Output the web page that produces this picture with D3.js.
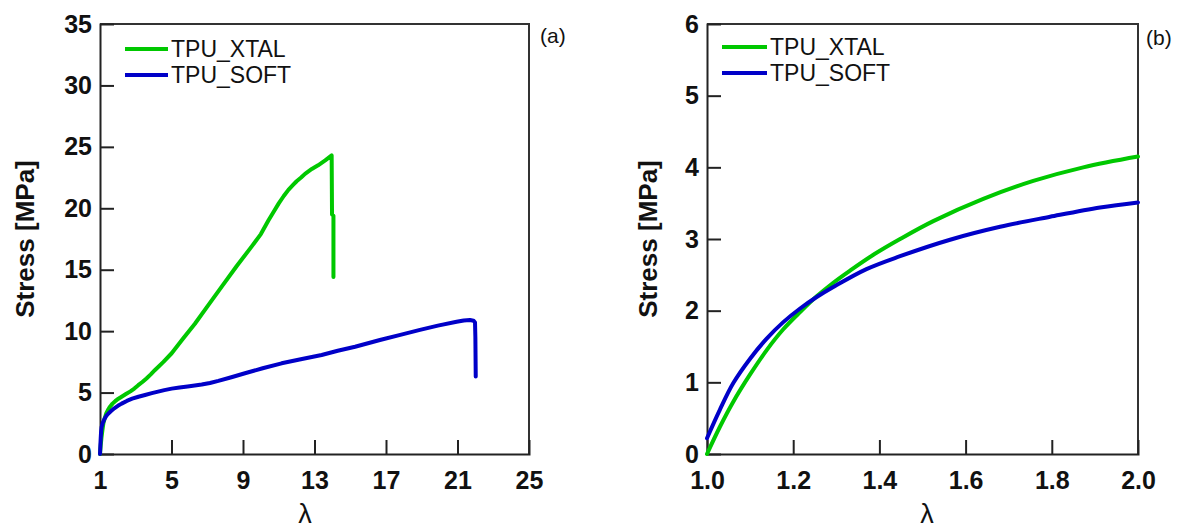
<!DOCTYPE html>
<html>
<head>
<meta charset="utf-8">
<script src="https://cdn.jsdelivr.net/npm/d3@7"></script>
<style>
  html, body { margin: 0; padding: 0; background: #fff; }
  svg { display: block; }
  text { font-family: Arial, "Liberation Sans", sans-serif; }
</style>
</head>
<body>
<svg id="chart" width="1181" height="530"></svg>
<script>
// ---------- Data ----------
const seriesNames = ["TPU_XTAL", "TPU_SOFT"];
const seriesColors = ["#00c800", "#0000c8"];

// Panel (a): full curves
const xtalFull = [
  [1.0, 0.0], [1.04, 0.7], [1.08, 1.3], [1.13, 1.9], [1.19, 2.5], [1.27, 2.95], [1.35, 3.3],
  [1.45, 3.6], [1.56, 3.85], [1.7, 4.1], [1.85, 4.3], [2.03, 4.5], [2.21, 4.66],
  [2.45, 4.88], [2.7, 5.1], [2.92, 5.33], [3.14, 5.6], [3.37, 5.86], [3.6, 6.15], [3.84, 6.48],
  [4.08, 6.84], [4.55, 7.5], [5.01, 8.2], [5.65, 9.4], [6.31, 10.6], [7.05, 12.1],
  [7.8, 13.6], [8.65, 15.3], [9.49, 16.9], [10.0, 17.9], [10.42, 19.0], [10.75, 19.8],
  [11.0, 20.4], [11.28, 21.0], [11.54, 21.5], [11.8, 21.9], [12.0, 22.2], [12.25, 22.5],
  [12.47, 22.8], [12.85, 23.2], [13.2, 23.5], [13.6, 23.9], [13.96, 24.3],
  [13.98, 19.5], [14.06, 19.4], [14.06, 14.4]
];
const softFull = [
  [1.0, 0.0], [1.02, 0.7], [1.04, 1.3], [1.06, 1.8], [1.09, 2.2], [1.16, 2.55], [1.25, 2.85],
  [1.35, 3.1], [1.47, 3.3], [1.62, 3.5], [1.8, 3.72], [2.0, 3.92], [2.21, 4.1],
  [2.5, 4.32], [2.8, 4.5], [3.15, 4.66], [3.52, 4.8], [3.9, 4.95], [4.25, 5.08], [4.6, 5.2],
  [5.01, 5.32], [5.45, 5.42], [5.9, 5.5], [6.3, 5.57], [6.69, 5.65], [7.15, 5.78],
  [7.62, 5.95], [8.35, 6.25], [9.11, 6.57], [10.1, 6.98], [11.16, 7.38], [12.3, 7.73],
  [13.4, 8.06], [14.3, 8.4], [15.27, 8.73], [16.66, 9.28], [17.8, 9.7], [18.9, 10.1],
  [19.9, 10.45], [20.95, 10.77], [21.35, 10.87], [21.7, 10.9], [21.9, 10.85], [21.98, 10.7],
  [22.0, 9.5], [22.02, 6.3]
];

// Panel (b): zoom on small strains
const xtalZoom = [
  [1.0, 0.0], [1.03, 0.38], [1.061, 0.73], [1.1, 1.11], [1.1385, 1.45], [1.177, 1.74],
  [1.216, 1.98], [1.2545, 2.2], [1.293, 2.39], [1.332, 2.56], [1.386, 2.78], [1.448, 3.0],
  [1.525, 3.25], [1.641, 3.56], [1.757, 3.81], [1.873, 4.0], [2.0, 4.15]
];
const softZoom = [
  [1.0, 0.22], [1.03, 0.62], [1.061, 0.99], [1.1, 1.33], [1.1385, 1.61], [1.177, 1.84],
  [1.216, 2.03], [1.2545, 2.19], [1.293, 2.33], [1.37, 2.58], [1.448, 2.76], [1.564, 2.99],
  [1.68, 3.17], [1.796, 3.31], [1.912, 3.44], [2.0, 3.51]
];

const xTicksA = [1, 5, 9, 13, 17, 21, 25];
const yTicksA = [0, 5, 10, 15, 20, 25, 30, 35];
const xTicksB = [1.0, 1.2, 1.4, 1.6, 1.8, 2.0];
const yTicksB = [0, 1, 2, 3, 4, 5, 6];

// ---------- Drawing ----------
const svg = d3.select("#chart");

function panel(opts) {
  const { x0, x1, y0, y1, xDom, yDom, xTicks, yTicks, xFmt, data, curve, label, labelPos,
          legendX, legendY, ytitleX, xtitleX } = opts;
  const x = d3.scaleLinear().domain(xDom).range([x0, x1]);
  const y = d3.scaleLinear().domain(yDom).range([y1, y0]);
  const g = svg.append("g");

  // box top & right
  g.append("path")
    .attr("d", `M${x0},${y0}H${x1}V${y1}`)
    .attr("fill", "none").attr("stroke", "#333").attr("stroke-width", 2);

  const xa = g.append("g").attr("transform", `translate(0,${y1})`)
    .call(d3.axisBottom(x).tickValues(xTicks).tickFormat(xFmt).tickSize(-14).tickPadding(17));
  const ya = g.append("g").attr("transform", `translate(${x0},0)`)
    .call(d3.axisLeft(y).tickValues(yTicks).tickFormat(d3.format("d")).tickSize(-14).tickPadding(8));
  [xa, ya].forEach(a => {
    a.select(".domain").attr("stroke", "#222").attr("stroke-width", 2);
    a.selectAll(".tick line").attr("stroke", "#222").attr("stroke-width", 2);
    a.selectAll(".tick text").attr("font-size", 25).attr("font-weight", "bold")
      .attr("fill", "#111").attr("font-family", "Arial, 'Liberation Sans', sans-serif");
  });
  xa.selectAll(".tick line").filter(d => d === xDom[0] || d === xDom[1]).remove();
  ya.selectAll(".tick line").filter(d => d === yDom[0] || d === yDom[1]).remove();

  // curves
  const line = d3.line().x(d => x(d[0])).y(d => y(d[1])).curve(curve);
  data.forEach((s, i) => {
    g.append("path").datum(s)
      .attr("d", line).attr("fill", "none")
      .attr("stroke", seriesColors[i]).attr("stroke-width", 4)
      .attr("stroke-linejoin", "round").attr("stroke-linecap", "round");
  });

  // legend
  seriesNames.forEach((n, i) => {
    const ly = legendY + i * 26;
    g.append("line").attr("x1", legendX[0]).attr("x2", legendX[1])
      .attr("y1", ly).attr("y2", ly)
      .attr("stroke", seriesColors[i]).attr("stroke-width", 4);
    g.append("text").attr("x", legendX[1] + 3).attr("y", ly + 8)
      .attr("font-size", 23).attr("fill", "#111").text(n);
  });

  // panel label
  g.append("text").attr("x", labelPos[0]).attr("y", labelPos[1])
    .attr("font-size", 21).attr("fill", "#111").text(label);

  // axis titles
  g.append("text")
    .attr("transform", `translate(${ytitleX},${(y0 + y1) / 2}) rotate(-90)`)
    .attr("text-anchor", "middle").attr("font-size", 26).attr("font-weight", "bold")
    .attr("fill", "#111").text("Stress [MPa]");
  g.append("text").attr("x", xtitleX).attr("y", 523)
    .attr("text-anchor", "middle").attr("font-size", 27).attr("fill", "#111").text("λ");
}

panel({
  x0: 100, x1: 529, y0: 24, y1: 454,
  xDom: [1, 25], yDom: [0, 35], xTicks: xTicksA, yTicks: yTicksA, xFmt: d3.format("d"),
  data: [xtalFull, softFull], curve: d3.curveLinear, label: "(a)", labelPos: [540, 43],
  legendX: [125, 168], legendY: 49, ytitleX: 34, xtitleX: 305
});
panel({
  x0: 707, x1: 1138, y0: 24, y1: 454,
  xDom: [1, 2], yDom: [0, 6], xTicks: xTicksB, yTicks: yTicksB, xFmt: d3.format(".1f"),
  data: [xtalZoom, softZoom], curve: d3.curveCatmullRom.alpha(0.5), label: "(b)", labelPos: [1146, 45],
  legendX: [722, 767], legendY: 47, ytitleX: 657, xtitleX: 927
});
</script>
</body>
</html>
